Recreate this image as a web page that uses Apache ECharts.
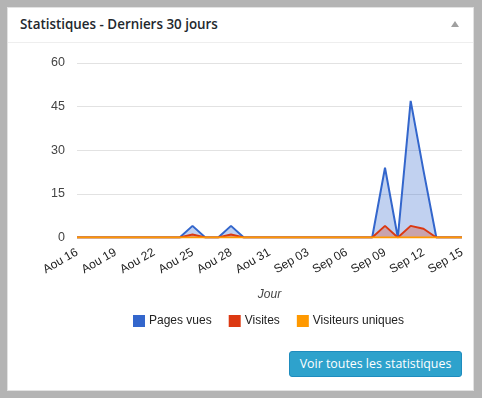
<!DOCTYPE html>
<html><head><meta charset="utf-8">
<script src="https://cdn.jsdelivr.net/npm/echarts@6/dist/echarts.min.js"></script>
<style>
html,body{margin:0;padding:0;width:482px;height:398px;overflow:hidden;background:#b4b4b4;}
#panel{position:absolute;left:7px;top:7px;width:465px;height:382px;background:#fff;border:1px solid #e2e2e2;}
#title{position:absolute;left:20px;top:15px;font-family:"Open Sans",sans-serif;font-weight:600;font-size:13.4px;color:#23282d;}
#sep{position:absolute;left:8px;top:42px;width:465px;height:1px;background:#eeeeee;}
#tri{position:absolute;left:451px;top:21px;width:0;height:0;border-left:4px solid transparent;border-right:4px solid transparent;border-bottom:6px solid #a0a0a0;}
#btn{position:absolute;left:289px;top:351px;width:171px;height:24px;background:#2ea2cc;border:1px solid #1e8cbe;border-radius:3px;color:#fff;font-family:"Open Sans",sans-serif;font-size:12.4px;line-height:24px;text-align:center;box-sizing:content-box;}
#chart{position:absolute;left:0;top:0;width:482px;height:398px;}
</style></head>
<body>
<div id="panel"></div>
<div id="title">Statistiques - Derniers 30 jours</div>
<div id="sep"></div>
<div id="tri"></div>
<div id="chart"></div>
<div id="btn">Voir toutes les statistiques</div>
<script>
var categories = ["Aou 16","Aou 17","Aou 18","Aou 19","Aou 20","Aou 21","Aou 22","Aou 23","Aou 24","Aou 25","Aou 26","Aou 27","Aou 28","Aou 29","Aou 30","Aou 31","Sep 01","Sep 02","Sep 03","Sep 04","Sep 05","Sep 06","Sep 07","Sep 08","Sep 09","Sep 10","Sep 11","Sep 12","Sep 13","Sep 14","Sep 15"];
var pagesVues = [0,0,0,0,0,0,0,0,0,4,0,0,4,0,0,0,0,0,0,0,0,0,0,0,24,0,47,23,0,0,0];
var visites   = [0,0,0,0,0,0,0,0,0,1,0,0,1,0,0,0,0,0,0,0,0,0,0,0,4,0,4,3,0,0,0];
var visiteursUniques = [0,0,0,0,0,0,0,0,0,0,0,0,0,0,0,0,0,0,0,0,0,0,0,0,0,0,0,0,0,0,0];
var yTicks = {min:0, max:60, interval:15};
var seriesNames = ["Pages vues","Visites","Visiteurs uniques"];
var colors = ["#3366cc","#dc3912","#ff9900"];

var chart = echarts.init(document.getElementById('chart'), null, {renderer:'canvas'});
function mk(name, data, color, area){
  var s = {name:name, type:'line', data:data, symbol:'none', smooth:false,
    lineStyle:{width:2, color:color}, itemStyle:{color:color}};
  if (area) s.areaStyle = {color:color, opacity:0.3};
  return s;
}
chart.setOption({
  animation:false,
  color:colors,
  grid:{left:77, right:20, top:63, bottom:160.5, containLabel:false},
  legend:{
    data:seriesNames, bottom:66, left:128, icon:'rect', itemWidth:12, itemHeight:12,
    itemGap:17, textStyle:{fontFamily:'Liberation Sans, Arial', fontSize:12, color:'#222', padding:[0,0,0,-1]}
  },
  xAxis:{
    type:'category', data:categories, boundaryGap:false,
    axisLine:{show:false}, axisTick:{show:false},
    axisLabel:{interval:2, rotate:30, margin:14, fontFamily:'Liberation Sans, Arial', fontSize:12, color:'#222'},
    name:'Jour', nameLocation:'middle', nameGap:51,
    nameTextStyle:{fontFamily:'Liberation Sans, Arial', fontStyle:'italic', fontSize:12, color:'#444'}
  },
  yAxis:{
    type:'value', min:yTicks.min, max:yTicks.max, interval:yTicks.interval,
    axisLine:{show:false}, axisTick:{show:false},
    axisLabel:{margin:12, fontFamily:'Liberation Sans, Arial', fontSize:12.5, color:'#444'},
    splitLine:{lineStyle:{color:'#e2e2e2', width:1}}
  },
  series:[
    mk(seriesNames[0], pagesVues, colors[0], true),
    mk(seriesNames[1], visites, colors[1], true),
    mk(seriesNames[2], visiteursUniques, colors[2], true)
  ]
});
</script>
</body></html>
